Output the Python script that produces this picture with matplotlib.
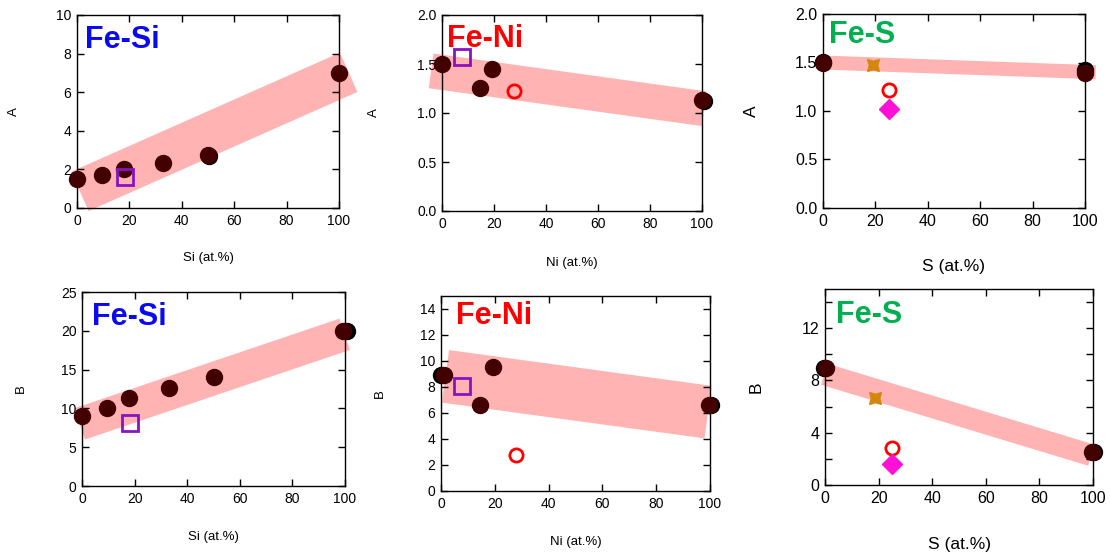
import matplotlib
matplotlib.use("Agg")
import matplotlib.pyplot as plt
from matplotlib.ticker import MultipleLocator, FormatStrFormatter

plt.rcParams["font.family"] = ["Liberation Sans", "DejaVu Sans"]

W, H = 1110, 555
PT = 0.72  # points per pixel at dpi 100

MAROON = "#420000"
BAND = "#ffb3b3"
PURPLE = "#8a12c2"
RED = "#ff0000"
MAGENTA = "#ff10d8"
ORANGE = "#d4870a"

# ---- Fe-Si, A
fesi_x = [0, 9.5, 18, 33, 50, 100]
fesi_a = [1.52, 1.72, 2.02, 2.33, 2.76, 7.0]
fesi_a_ref_x = [50.4]
fesi_a_ref = [2.67]
fesi_a_sq = (18.4, 1.6)
fesi_a_band_x = [1.1, 103.7]
fesi_a_band_y = [0.86, 7.03]

# ---- Fe-Ni, A
feni_x = [0, 14.5, 19.2, 100]
feni_a = [1.50, 1.26, 1.45, 1.13]
feni_a_ref_x = [100.8]
feni_a_ref = [1.12]
feni_a_sq = (7.8, 1.57)
feni_a_open = (27.6, 1.22)
feni_a_band_x = [-4.2, 100.8]
feni_a_band_y = [1.43, 1.044]

# ---- Fe-S, A
fes_x = [0, 100]
fes_a = [1.49, 1.39]
fes_a_ref_x = [0, 100]
fes_a_ref = [1.51, 1.42]
fes_a_star = (19.1, 1.475)
fes_a_open = (25.1, 1.22)
fes_a_dia = (25.1, 1.02)
fes_a_band_x = [-0.25, 104.1]
fes_a_band_y = [1.50, 1.40]

# ---- Fe-Si, B
fesi_b_x = [0, 9.5, 18, 33, 50, 99.3]
fesi_b = [9.0, 10.0, 11.4, 12.6, 14.0, 20.0]
fesi_b_ref_x = [100.6]
fesi_b_ref = [20.0]
fesi_b_sq = (18.1, 8.06)
fesi_b_band_x = [-0.9, 99.9]
fesi_b_band_y = [8.0, 19.55]

# ---- Fe-Ni, B
feni_b_x = [1.0, 14.5, 19.2, 99.6]
feni_b = [8.96, 6.63, 9.57, 6.65]
feni_b_ref_x = [0, 100.4]
feni_b_ref = [8.96, 6.65]
feni_b_sq = (7.9, 8.09)
feni_b_open = (27.8, 2.74)
feni_b_band_x = [1.67, 99.3]
feni_b_band_y = [8.82, 6.07]

# ---- Fe-S, B
fes_b_x = [0.5, 99.6]
fes_b = [8.94, 2.55]
fes_b_ref_x = [-0.3, 100.4]
fes_b_ref = [8.94, 2.55]
fes_b_star = (18.7, 6.69)
fes_b_open = (24.9, 2.81)
fes_b_dia = (24.9, 1.58)
fes_b_band_x = [-0.3, 99.4]
fes_b_band_y = [8.48, 2.28]

# panel geometry in pixels: left, right, top, bottom
panels = [
    dict(box=(77, 339, 15, 208), x=fesi_x, y=fesi_a, rx=fesi_a_ref_x, ry=fesi_a_ref,
         bx=fesi_a_band_x, by=fesi_a_band_y, bw=43, sq=fesi_a_sq,
         ylim=10, major=2, minor=None, fmt="%d", ylabel="A", xlabel="Si (at.%)",
         title="Fe-Si", tcol="#0a0af0", big=False, tpos=(8, 33), xl=50, yl=63),
    dict(box=(442, 702, 15, 211), x=feni_x, y=feni_a, rx=feni_a_ref_x, ry=feni_a_ref,
         bx=feni_a_band_x, by=feni_a_band_y, bw=35, sq=feni_a_sq, op=feni_a_open,
         ylim=2.0, major=0.5, minor=None, fmt="%.1f", ylabel="A", xlabel="Ni (at.%)",
         title="Fe-Ni", tcol=RED, big=False, tpos=(5, 32), xl=52, yl=68),
    dict(box=(823, 1085, 14, 208), x=fes_x, y=fes_a, rx=fes_a_ref_x, ry=fes_a_ref,
         bx=fes_a_band_x, by=fes_a_band_y, bw=14, st=fes_a_star, op=fes_a_open,
         di=fes_a_dia, ylim=2.0, major=0.5, minor=None, fmt="%.1f", ylabel="A",
         xlabel="S (at.%)", title="Fe-S", tcol="#00b050", big=True, tpos=(6, 29),
         xl=59, yl=72),
    dict(box=(82, 345, 292, 486), x=fesi_b_x, y=fesi_b, rx=fesi_b_ref_x, ry=fesi_b_ref,
         bx=fesi_b_band_x, by=fesi_b_band_y, bw=33, sq=fesi_b_sq,
         ylim=25, major=5, minor=None, fmt="%d", ylabel="B", xlabel="Si (at.%)",
         title="Fe-Si", tcol="#0a0af0", big=False, tpos=(10, 33), xl=51, yl=61),
    dict(box=(441, 710, 296, 491), x=feni_b_x, y=feni_b, rx=feni_b_ref_x, ry=feni_b_ref,
         bx=feni_b_band_x, by=feni_b_band_y, bw=53, sq=feni_b_sq, op=feni_b_open,
         ylim=15, major=2, minor=None, fmt="%d", ylabel="B", xlabel="Ni (at.%)",
         title="Fe-Ni", tcol=RED, big=False, tpos=(15, 28), xl=51, yl=61),
    dict(box=(825, 1093, 289, 485), x=fes_b_x, y=fes_b, rx=fes_b_ref_x, ry=fes_b_ref,
         bx=fes_b_band_x, by=fes_b_band_y, bw=22, st=fes_b_star, op=fes_b_open,
         di=fes_b_dia, ylim=15, major=4, minor=2, fmt="%d", ylabel="B",
         xlabel="S (at.%)", title="Fe-S", tcol="#00b050", big=True, tpos=(11, 34),
         xl=60, yl=69),
]

fig = plt.figure(figsize=(W / 100, H / 100), dpi=100)

for p in panels:
    l, r, t, b = p["box"]
    ax = fig.add_axes([l / W, 1 - b / H, (r - l) / W, (b - t) / H])
    wpx, hpx = r - l, b - t

    ax.plot(p["bx"], p["by"], color=BAND, lw=p["bw"] * PT, solid_capstyle="butt",
            zorder=1, clip_on=False)
    ax.plot(p["rx"], p["ry"], "o", color="black", ms=11.5, zorder=2, clip_on=False)
    ax.plot(p["x"], p["y"], "o", color=MAROON, ms=11.5, zorder=3, clip_on=False)
    if "sq" in p:
        ax.plot(*p["sq"], "s", mfc="none", mec=PURPLE, mew=2, ms=11, zorder=4, clip_on=False)
    if "op" in p:
        ax.plot(*p["op"], "o", mfc="none", mec=RED, mew=2, ms=9.5, zorder=4, clip_on=False)
    if "di" in p:
        ax.plot(*p["di"], "D", color=MAGENTA, ms=10, zorder=4, clip_on=False)
    if "st" in p:
        ax.plot(*p["st"], marker=(4, 1, 45), color=ORANGE, ms=12, zorder=4, clip_on=False)

    ax.set_xlim(0, 100)
    ax.set_ylim(0, p["ylim"])
    ax.xaxis.set_major_locator(MultipleLocator(20))
    ax.yaxis.set_major_locator(MultipleLocator(p["major"]))
    if p["minor"]:
        ax.yaxis.set_minor_locator(MultipleLocator(p["minor"]))
    ax.yaxis.set_major_formatter(FormatStrFormatter(p["fmt"]))

    fs = 11.5 if p["big"] else 10
    lfs = 12.5 if p["big"] else 9.5
    ax.tick_params(which="both", direction="in", top=True, right=True,
                   length=5, width=1, labelsize=fs, pad=4)
    for s in ax.spines.values():
        s.set_linewidth(1)

    ax.set_xlabel(p["xlabel"], fontsize=lfs)
    ax.set_ylabel(p["ylabel"], fontsize=lfs)
    ax.xaxis.set_label_coords(0.5, -p["xl"] / hpx)
    ax.xaxis.label.set_va("center")
    ax.yaxis.set_label_coords(-p["yl"] / wpx, 0.5)
    ax.yaxis.label.set_va("center")

    ax.annotate(p["title"], xy=(0, 1), xycoords="axes fraction",
                xytext=(p["tpos"][0] * PT, -p["tpos"][1] * PT), textcoords="offset points",
                ha="left", va="baseline", fontsize=22, fontweight="bold",
                color=p["tcol"], zorder=6)

fig.savefig("out.png", dpi=100)
